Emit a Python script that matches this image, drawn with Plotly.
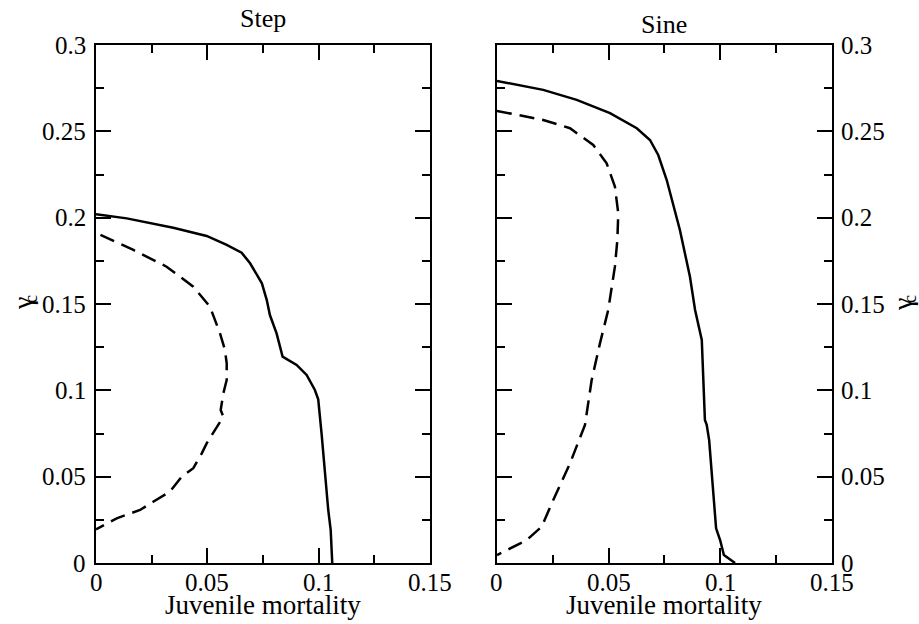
import plotly.graph_objects as go

# Critical gamma vs juvenile mortality, two forcing shapes
step_solid_x = [0.0, 0.0138, 0.0347, 0.0497, 0.0587, 0.0654, 0.0692, 0.0729, 0.0745, 0.0767,
                0.0781, 0.0811, 0.0838, 0.0901, 0.0946, 0.0983, 0.0998, 0.1013, 0.1028,
                0.1043, 0.1054, 0.1061]
step_solid_y = [0.202, 0.1996, 0.1942, 0.1894, 0.1842, 0.1797, 0.1736, 0.1649, 0.162, 0.1523,
                0.1436, 0.1330, 0.1195, 0.1147, 0.1089, 0.1002, 0.0948, 0.0751, 0.0520,
                0.0307, 0.0191, 0.0]

step_dash_x = [0.002, 0.0168, 0.0317, 0.0437, 0.0512, 0.0557, 0.0579, 0.0587, 0.0587, 0.0572,
               0.0560, 0.0572, 0.0534, 0.0497, 0.0475, 0.0437, 0.0385, 0.0332, 0.0257,
               0.0198, 0.0093, 0.0]
step_dash_y = [0.190, 0.1813, 0.1716, 0.1600, 0.1484, 0.1330, 0.1234, 0.1157, 0.1060, 0.0983,
               0.0886, 0.0847, 0.0770, 0.0693, 0.0635, 0.0549, 0.0500, 0.0413, 0.0355,
               0.0307, 0.0259, 0.0195]

sine_solid_x = [0.0, 0.0207, 0.0357, 0.0506, 0.0626, 0.0685, 0.0722, 0.0760, 0.0819, 0.0864,
                0.0887, 0.0917, 0.0931, 0.0939, 0.0950, 0.0981, 0.0999, 0.1016, 0.1066]
sine_solid_y = [0.2792, 0.2740, 0.2682, 0.2605, 0.2518, 0.2450, 0.2363, 0.2218, 0.1929, 0.1658,
                0.1465, 0.1292, 0.0828, 0.0800, 0.0712, 0.0201, 0.0133, 0.0046, 0.0]

sine_dash_x = [0.0, 0.0207, 0.0327, 0.0431, 0.0491, 0.0528, 0.0543, 0.0539, 0.0528, 0.0498,
               0.0461, 0.0424, 0.0394, 0.0327, 0.0252, 0.0200, 0.0133, 0.0]
sine_dash_y = [0.2618, 0.2566, 0.2518, 0.2421, 0.2315, 0.2180, 0.2025, 0.1871, 0.1716, 0.1465,
               0.1272, 0.1060, 0.0800, 0.0577, 0.0365, 0.0210, 0.0133, 0.0046]

panel_titles = ["Step", "Sine"]
x_label = "Juvenile mortality"
y_symbol = "γ"
y_subscript = "c"
x_ticks = [0, 0.05, 0.1, 0.15]
y_ticks = [0, 0.05, 0.1, 0.15, 0.2, 0.25, 0.3]
x_range = [0, 0.15]
y_range = [0, 0.3]

FONT = "Liberation Serif"
TICK_FS = 25

fig = go.Figure()
solid = dict(color="black", width=2.5)
dashed = dict(color="black", width=2.5, dash="15px,8px")

fig.add_trace(go.Scatter(x=step_solid_x, y=step_solid_y, mode="lines", line=solid,
                         xaxis="x", yaxis="y", showlegend=False))
fig.add_trace(go.Scatter(x=step_dash_x, y=step_dash_y, mode="lines", line=dashed,
                         xaxis="x", yaxis="y", showlegend=False))
fig.add_trace(go.Scatter(x=sine_solid_x, y=sine_solid_y, mode="lines", line=solid,
                         xaxis="x2", yaxis="y2", showlegend=False))
fig.add_trace(go.Scatter(x=sine_dash_x, y=sine_dash_y, mode="lines", line=dashed,
                         xaxis="x2", yaxis="y2", showlegend=False))


def axis_style(rng, ticks):
    return dict(
        range=rng, showline=True, linecolor="black", linewidth=2, mirror="ticks",
        ticks="inside", ticklen=15, tickwidth=2, tickcolor="black",
        showgrid=False, zeroline=False, tickvals=ticks, showticklabels=False,
        minor=dict(ticks="inside", ticklen=8, tickwidth=2, tickcolor="black",
                   tickmode="linear", tick0=0, dtick=0.025, showgrid=False),
    )


def text(t, x, y, size, xref="paper", yref="paper", xanchor="center", angle=0):
    return dict(text=t, x=x, y=y, xref=xref, yref=yref, xanchor=xanchor,
                yanchor="middle", showarrow=False, textangle=angle,
                font=dict(family=FONT, size=size, color="black"))


def fmt(v):
    return f"{v:g}"


left_dom = [0.0, 0.4538]
right_dom = [0.5448, 1.0]
lc = sum(left_dom) / 2
rc = sum(right_dom) / 2

annotations = [
    text(panel_titles[0], lc, 1.052, 26),
    text(panel_titles[1], rc, 1.040, 26),
    text(x_label, lc, -0.081, 27),
    text(x_label, rc, -0.081, 27),
    text(y_symbol, -0.1005, 0.500, 28, angle=-90),
    text(y_subscript, -0.0883, 0.5097, 18, angle=-90),
    text(y_symbol, 1.0951, 0.500, 28, angle=-90),
    text(y_subscript, 1.1060, 0.5097, 18, angle=-90),
]
# tick labels placed at the tick values of each axis
for xr in ("x", "x2"):
    for v in x_ticks:
        annotations.append(text(fmt(v), v, -0.0367, TICK_FS, xref=xr))
for v in y_ticks:
    annotations.append(text(fmt(v), -0.0109, v, TICK_FS, yref="y", xanchor="right"))
    annotations.append(text(fmt(v), 1.0095, v, TICK_FS, yref="y2", xanchor="left"))

fig.update_layout(
    width=919, height=624,
    margin=dict(l=96, r=87, t=45, b=61),
    plot_bgcolor="white", paper_bgcolor="white",
    xaxis=dict(axis_style(x_range, x_ticks), domain=left_dom, anchor="y"),
    yaxis=dict(axis_style(y_range, y_ticks), domain=[0, 1], anchor="x", side="left"),
    xaxis2=dict(axis_style(x_range, x_ticks), domain=right_dom, anchor="y2"),
    yaxis2=dict(axis_style(y_range, y_ticks), domain=[0, 1], anchor="x2", side="right"),
    annotations=annotations,
)

fig.write_html("out.html")
